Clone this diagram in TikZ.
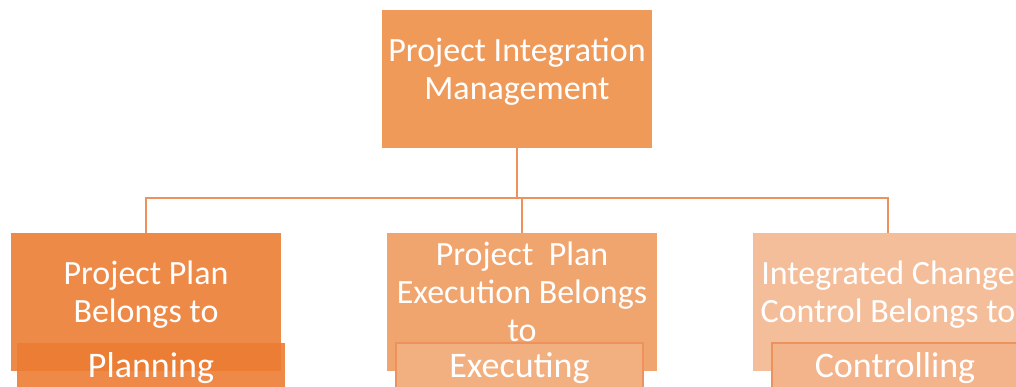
\documentclass[tikz,border=0pt]{standalone}
\usepackage{fontspec}
\setmainfont{Carlito}
\usetikzlibrary{positioning}
\definecolor{topfill}{RGB}{240,154,90}
\definecolor{planfill}{RGB}{238,138,71}
\definecolor{planbar}{RGB}{236,124,51}
\definecolor{execfill}{RGB}{240,164,110}
\definecolor{execbar}{RGB}{242,176,129}
\definecolor{ctrlfill}{RGB}{245,190,154}
\definecolor{ctrlbar}{RGB}{244,180,139}
\definecolor{linkcol}{RGB}{237,145,93}
\tikzset{box/.style={rectangle,minimum width=270pt,minimum height=138pt,inner sep=0pt}}
\tikzset{boxtext/.style={text=white,align=center,font=\fontsize{34}{38}\selectfont}}
\tikzset{bar/.style={rectangle,minimum height=50pt,inner sep=0pt,text=white,font=\fontsize{36}{38}\selectfont}}
\tikzset{link/.style={draw=linkcol,line width=2.5pt}}

\begin{document}
\begin{tikzpicture}[x=1pt,y=-1pt]
      \useasboundingbox (0,0) rectangle (1016,386);
      \clip (0,0) rectangle (1016,386);
      \node[box,fill=topfill] (top) at (517,79) {};
      \node[box,fill=planfill] (plan) at (146,302) {};
      \node[box,fill=execfill] (exec) at (522,302) {};
      \node[box,fill=ctrlfill] (ctrl) at (888,302) {};
      \node[boxtext] (toptext) at (517,72) {Project Integration\\Management};
      \node[boxtext] (plantext) at (146,295) {Project Plan\\Belongs to};
      \node[boxtext] (exectext) at (522,292) {Project\ \ Plan\\Execution Belongs\\to};
      \node[boxtext] (ctrltext) at (888,295) {Integrated Change\\Control Belongs to};
      \coordinate (bus) at (517,198);
      \draw[link] (top.south) -- (bus);
      \draw[link] (plan.north) |- (bus) -| (ctrl.north);
      \draw[link] (exec.north) -- (exec.north |- bus);
      \node[bar,fill=planbar,fill opacity=0.9,text opacity=1,minimum width=268pt] (planning) at (151,368) {Planning};
      \node[bar,fill=execbar,draw=linkcol,line width=2pt,minimum width=247pt] (executing) at (519.5,368) {Executing};
      \node[bar,fill=ctrlbar,draw=linkcol,line width=2pt,minimum width=247pt] (controlling) at (895,368) {Controlling};
    \end{tikzpicture}
\end{document}
